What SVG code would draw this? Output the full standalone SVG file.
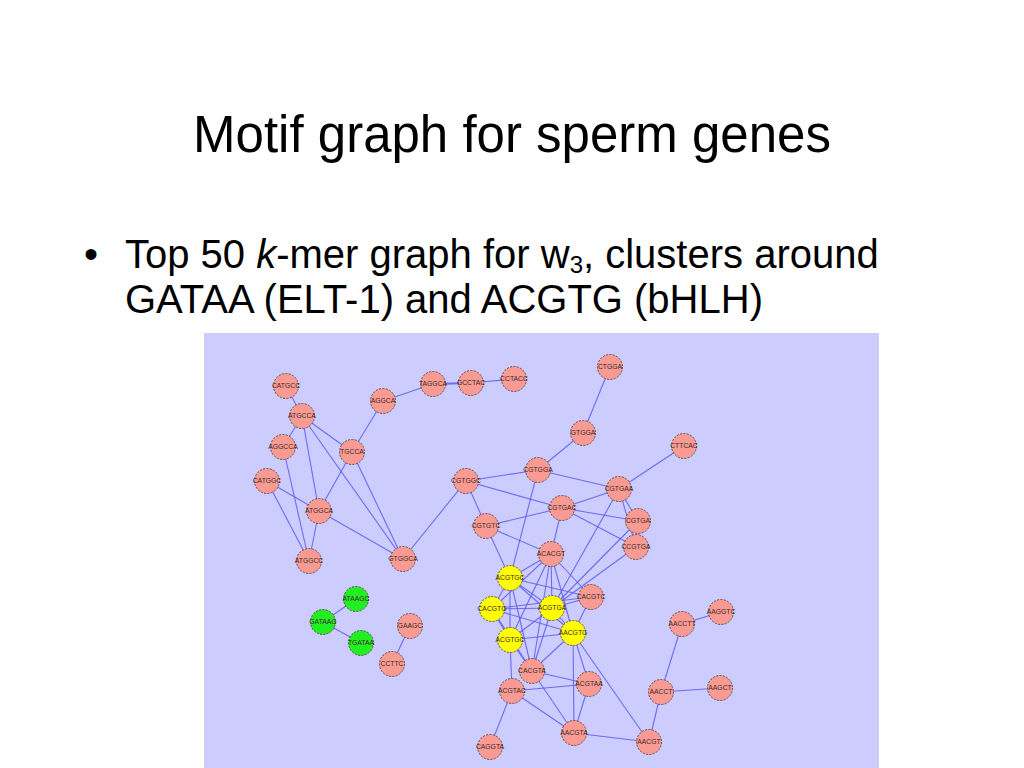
<svg xmlns="http://www.w3.org/2000/svg" width="1024" height="768" viewBox="0 0 1024 768">
<style>
.t{font-family:"Liberation Sans",Arial,sans-serif;fill:#000}
.e line{stroke:#5a5af2;stroke-width:1.1;stroke-opacity:0.85}
.n circle{stroke:#4a3a3a;stroke-width:0.8;stroke-dasharray:2.2,1.2}
.p circle{fill:#f99b92}
.y circle{fill:#ffff00}
.g circle{fill:#22ee22}
.n text{font-family:"Liberation Sans",Arial,sans-serif;font-size:6.8px;fill:#3a2a2a;text-anchor:middle}
</style>
<rect width="1024" height="768" fill="#ffffff"/>
<text class="t" x="512" y="152" font-size="51" text-anchor="middle">Motif graph for sperm genes</text>
<text class="t" x="84" y="268" font-size="40">•</text>
<text class="t" x="125" y="268" font-size="40">Top 50 <tspan font-style="italic">k</tspan>-mer graph for w<tspan font-size="24" dy="5">3</tspan><tspan dy="-5">, clusters around</tspan></text>
<text class="t" x="125" y="313" font-size="40">GATAA (ELT-1) and ACGTG (bHLH)</text>
<rect x="204" y="333" width="675" height="435" fill="#ccccff"/>
<g id="edges" class="e">
<line x1="286" y1="386" x2="302" y2="416"/>
<line x1="302" y1="416" x2="283" y2="447"/>
<line x1="302" y1="416" x2="352" y2="452"/>
<line x1="302" y1="416" x2="319" y2="511"/>
<line x1="302" y1="416" x2="403" y2="559"/>
<line x1="352" y1="452" x2="319" y2="511"/>
<line x1="352" y1="452" x2="403" y2="559"/>
<line x1="352" y1="452" x2="383" y2="401"/>
<line x1="383" y1="401" x2="433" y2="384"/>
<line x1="433" y1="384" x2="471" y2="383" style="stroke-width:1.8"/>
<line x1="471" y1="383" x2="514" y2="379"/>
<line x1="267" y1="481" x2="319" y2="511"/>
<line x1="267" y1="481" x2="309" y2="561"/>
<line x1="283" y1="447" x2="309" y2="561"/>
<line x1="319" y1="511" x2="309" y2="561"/>
<line x1="319" y1="511" x2="403" y2="559"/>
<line x1="403" y1="559" x2="466" y2="481"/>
<line x1="610" y1="367" x2="583" y2="433"/>
<line x1="583" y1="433" x2="538" y2="470"/>
<line x1="684" y1="446" x2="619" y2="489"/>
<line x1="466" y1="481" x2="538" y2="470"/>
<line x1="538" y1="470" x2="619" y2="489"/>
<line x1="466" y1="481" x2="562" y2="508"/>
<line x1="466" y1="481" x2="486" y2="526"/>
<line x1="486" y1="526" x2="562" y2="508"/>
<line x1="486" y1="526" x2="551" y2="554"/>
<line x1="486" y1="526" x2="510" y2="578"/>
<line x1="538" y1="470" x2="510" y2="578"/>
<line x1="562" y1="508" x2="619" y2="489"/>
<line x1="562" y1="508" x2="638" y2="521"/>
<line x1="562" y1="508" x2="636" y2="547"/>
<line x1="562" y1="508" x2="551" y2="554"/>
<line x1="619" y1="489" x2="638" y2="521"/>
<line x1="619" y1="489" x2="636" y2="547"/>
<line x1="619" y1="489" x2="552" y2="608"/>
<line x1="638" y1="521" x2="552" y2="608"/>
<line x1="636" y1="547" x2="552" y2="608"/>
<line x1="551" y1="554" x2="510" y2="578"/>
<line x1="551" y1="554" x2="492" y2="609"/>
<line x1="551" y1="554" x2="552" y2="608"/>
<line x1="551" y1="554" x2="573" y2="633"/>
<line x1="551" y1="554" x2="510" y2="640"/>
<line x1="551" y1="554" x2="532" y2="671"/>
<line x1="551" y1="554" x2="591" y2="597"/>
<line x1="510" y1="578" x2="492" y2="609"/>
<line x1="510" y1="578" x2="552" y2="608"/>
<line x1="510" y1="578" x2="573" y2="633"/>
<line x1="510" y1="578" x2="510" y2="640"/>
<line x1="510" y1="578" x2="591" y2="597"/>
<line x1="510" y1="578" x2="532" y2="671"/>
<line x1="492" y1="609" x2="552" y2="608"/>
<line x1="492" y1="609" x2="573" y2="633"/>
<line x1="492" y1="609" x2="510" y2="640"/>
<line x1="492" y1="609" x2="591" y2="597"/>
<line x1="492" y1="609" x2="532" y2="671"/>
<line x1="552" y1="608" x2="573" y2="633"/>
<line x1="552" y1="608" x2="510" y2="640"/>
<line x1="552" y1="608" x2="591" y2="597"/>
<line x1="552" y1="608" x2="532" y2="671"/>
<line x1="573" y1="633" x2="510" y2="640"/>
<line x1="573" y1="633" x2="591" y2="597"/>
<line x1="573" y1="633" x2="532" y2="671"/>
<line x1="573" y1="633" x2="589" y2="684"/>
<line x1="573" y1="633" x2="574" y2="733"/>
<line x1="573" y1="633" x2="649" y2="742"/>
<line x1="510" y1="640" x2="532" y2="671"/>
<line x1="510" y1="640" x2="512" y2="691"/>
<line x1="532" y1="671" x2="589" y2="684"/>
<line x1="532" y1="671" x2="574" y2="733"/>
<line x1="512" y1="691" x2="589" y2="684"/>
<line x1="512" y1="691" x2="574" y2="733"/>
<line x1="512" y1="691" x2="490" y2="747"/>
<line x1="589" y1="684" x2="574" y2="733"/>
<line x1="574" y1="733" x2="649" y2="742"/>
<line x1="649" y1="742" x2="661" y2="692"/>
<line x1="661" y1="692" x2="682" y2="624"/>
<line x1="682" y1="624" x2="721" y2="612"/>
<line x1="661" y1="692" x2="720" y2="688"/>
<line x1="323" y1="622" x2="356" y2="599"/>
<line x1="323" y1="622" x2="361" y2="643"/>
<line x1="410" y1="626" x2="392" y2="664"/>
</g>
<g id="n-CATGCC" class="n p"><circle cx="286" cy="386" r="12.5"/><text x="286" y="388.4">CATGCC</text></g>
<g id="n-ATGCCA" class="n p"><circle cx="302" cy="416" r="12.5"/><text x="302" y="418.4">ATGCCA</text></g>
<g id="n-AGGCCA" class="n p"><circle cx="283" cy="447" r="12.5"/><text x="283" y="449.4">AGGCCA</text></g>
<g id="n-CATGGC" class="n p"><circle cx="267" cy="481" r="12.5"/><text x="267" y="483.4">CATGGC</text></g>
<g id="n-ATGGCA" class="n p"><circle cx="319" cy="511" r="12.5"/><text x="319" y="513.4">ATGGCA</text></g>
<g id="n-ATGGCC" class="n p"><circle cx="309" cy="561" r="12.5"/><text x="309" y="563.4">ATGGCC</text></g>
<g id="n-TGCCA" class="n p"><circle cx="352" cy="452" r="12.5"/><text x="352" y="454.4">TGCCA</text></g>
<g id="n-AGGCA" class="n p"><circle cx="383" cy="401" r="12.5"/><text x="383" y="403.4">AGGCA</text></g>
<g id="n-TAGGCA" class="n p"><circle cx="433" cy="384" r="12.5"/><text x="433" y="386.4">TAGGCA</text></g>
<g id="n-GCCTAC" class="n p"><circle cx="471" cy="383" r="12.5"/><text x="471" y="385.4">GCCTAC</text></g>
<g id="n-CCTACC" class="n p"><circle cx="514" cy="379" r="12.5"/><text x="514" y="381.4">CCTACC</text></g>
<g id="n-GTGGCA" class="n p"><circle cx="403" cy="559" r="12.5"/><text x="403" y="561.4">GTGGCA</text></g>
<g id="n-CGTGGC" class="n p"><circle cx="466" cy="481" r="12.5"/><text x="466" y="483.4">CGTGGC</text></g>
<g id="n-CGTGTC" class="n p"><circle cx="486" cy="526" r="12.5"/><text x="486" y="528.4">CGTGTC</text></g>
<g id="n-CTGGA" class="n p"><circle cx="610" cy="367" r="12.5"/><text x="610" y="369.4">CTGGA</text></g>
<g id="n-GTGGA" class="n p"><circle cx="583" cy="433" r="12.5"/><text x="583" y="435.4">GTGGA</text></g>
<g id="n-CTTCAC" class="n p"><circle cx="684" cy="446" r="12.5"/><text x="684" y="448.4">CTTCAC</text></g>
<g id="n-CGTGGA" class="n p"><circle cx="538" cy="470" r="12.5"/><text x="538" y="472.4">CGTGGA</text></g>
<g id="n-CGTGAA" class="n p"><circle cx="619" cy="489" r="12.5"/><text x="619" y="491.4">CGTGAA</text></g>
<g id="n-CGTGAC" class="n p"><circle cx="562" cy="508" r="12.5"/><text x="562" y="510.4">CGTGAC</text></g>
<g id="n-CGTGA" class="n p"><circle cx="638" cy="521" r="12.5"/><text x="638" y="523.4">CGTGA</text></g>
<g id="n-CCGTGA" class="n p"><circle cx="636" cy="547" r="12.5"/><text x="636" y="549.4">CCGTGA</text></g>
<g id="n-ACACGT" class="n p"><circle cx="551" cy="554" r="12.5"/><text x="551" y="556.4">ACACGT</text></g>
<g id="n-ACGTGC-1" class="n y"><circle cx="510" cy="578" r="12.5"/><text x="510" y="580.4">ACGTGC</text></g>
<g id="n-CACGTC" class="n p"><circle cx="591" cy="597" r="12.5"/><text x="591" y="599.4">CACGTC</text></g>
<g id="n-CACGTG" class="n y"><circle cx="492" cy="609" r="12.5"/><text x="492" y="611.4">CACGTG</text></g>
<g id="n-ACGTGA" class="n y"><circle cx="552" cy="608" r="12.5"/><text x="552" y="610.4">ACGTGA</text></g>
<g id="n-AACGTG" class="n y"><circle cx="573" cy="633" r="12.5"/><text x="573" y="635.4">AACGTG</text></g>
<g id="n-ACGTGC-2" class="n y"><circle cx="510" cy="640" r="12.5"/><text x="510" y="642.4">ACGTGC</text></g>
<g id="n-CACGTA" class="n p"><circle cx="532" cy="671" r="12.5"/><text x="532" y="673.4">CACGTA</text></g>
<g id="n-ACGTAC" class="n p"><circle cx="512" cy="691" r="12.5"/><text x="512" y="693.4">ACGTAC</text></g>
<g id="n-ACGTAA" class="n p"><circle cx="589" cy="684" r="12.5"/><text x="589" y="686.4">ACGTAA</text></g>
<g id="n-AACGTA" class="n p"><circle cx="574" cy="733" r="12.5"/><text x="574" y="735.4">AACGTA</text></g>
<g id="n-CAGGTA" class="n p"><circle cx="490" cy="747" r="12.5"/><text x="490" y="749.4">CAGGTA</text></g>
<g id="n-AACGT" class="n p"><circle cx="649" cy="742" r="12.5"/><text x="649" y="744.4">AACGT</text></g>
<g id="n-AACCT" class="n p"><circle cx="661" cy="692" r="12.5"/><text x="661" y="694.4">AACCT</text></g>
<g id="n-AAGCT" class="n p"><circle cx="720" cy="688" r="12.5"/><text x="720" y="690.4">AAGCT</text></g>
<g id="n-AACCTT" class="n p"><circle cx="682" cy="624" r="12.5"/><text x="682" y="626.4">AACCTT</text></g>
<g id="n-AAGGTC" class="n p"><circle cx="721" cy="612" r="12.5"/><text x="721" y="614.4">AAGGTC</text></g>
<g id="n-ATAAGC" class="n g"><circle cx="356" cy="599" r="12.5"/><text x="356" y="601.4">ATAAGC</text></g>
<g id="n-GATAAG" class="n g"><circle cx="323" cy="622" r="12.5"/><text x="323" y="624.4">GATAAG</text></g>
<g id="n-TGATAA" class="n g"><circle cx="361" cy="643" r="12.5"/><text x="361" y="645.4">TGATAA</text></g>
<g id="n-GAAGC" class="n p"><circle cx="410" cy="626" r="12.5"/><text x="410" y="628.4">GAAGC</text></g>
<g id="n-CCTTC" class="n p"><circle cx="392" cy="664" r="12.5"/><text x="392" y="666.4">CCTTC</text></g>
</svg>
